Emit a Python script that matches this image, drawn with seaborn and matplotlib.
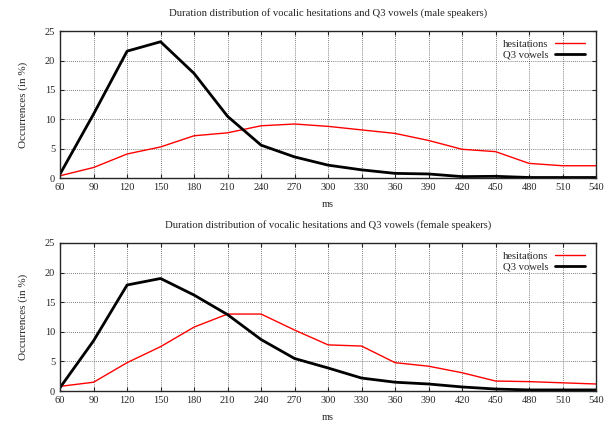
import pandas as pd
import numpy as np
import matplotlib
matplotlib.use('Agg')
import matplotlib.pyplot as plt
import seaborn as sns

ms = [60, 90, 120, 150, 180, 210, 240, 270, 300, 330, 360, 390, 420, 450, 480, 510, 540]

male_hes = [0.4, 1.8, 4.1, 5.3, 7.2, 7.7, 8.9, 9.2, 8.8, 8.2, 7.6, 6.4, 4.9, 4.5, 2.5, 2.1, 2.1]
male_q3 = [0.7, 10.9, 21.6, 23.2, 17.8, 10.5, 5.6, 3.6, 2.2, 1.4, 0.8, 0.7, 0.25, 0.3, 0.1, 0.1, 0.1]

female_hes = [0.8, 1.5, 4.8, 7.5, 10.8, 13.0, 13.0, 10.3, 7.8, 7.6, 4.8, 4.2, 3.1, 1.7, 1.6, 1.4, 1.2]
female_q3 = [0.6, 8.5, 17.9, 19.0, 16.2, 12.9, 8.7, 5.5, 3.9, 2.2, 1.5, 1.2, 0.7, 0.35, 0.2, 0.2, 0.2]

titles = ['Duration distribution of vocalic hesitations and Q3 vowels (male speakers)',
          'Duration distribution of vocalic hesitations and Q3 vowels (female speakers)']

sns.set_style('ticks')
plt.rcParams['font.family'] = ['Liberation Serif', 'DejaVu Serif']

fig = plt.figure(figsize=(6.07, 4.21), dpi=100)
ax1 = fig.add_axes([0.099, 0.577, 0.883, 0.349])
ax2 = fig.add_axes([0.099, 0.071, 0.883, 0.352])

for ax, hes, q3, title in [(ax1, male_hes, male_q3, titles[0]), (ax2, female_hes, female_q3, titles[1])]:
    df = pd.DataFrame({
        'ms': ms * 2,
        'value': hes + q3,
        'series': ['hesitations'] * len(ms) + ['Q3 vowels'] * len(ms),
    })
    sns.lineplot(data=df, x='ms', y='value', hue='series', size='series',
                 palette={'hesitations': '#ff0000', 'Q3 vowels': '#000000'},
                 sizes={'hesitations': 1.0, 'Q3 vowels': 2.0},
                 ax=ax)
    ax.set_xlim(60, 540)
    ax.set_ylim(0, 25)
    ax.set_xticks(ms)
    ax.set_yticks([0, 5, 10, 15, 20, 25])
    ax.tick_params(labelsize=7.5, direction='in', top=True, right=True, length=3, width=0.8)
    ax.grid(True, color='#555555', linestyle=(0, (1, 1.5)), linewidth=0.6)
    for s in ax.spines.values():
        s.set_linewidth(1.0)
        s.set_visible(True)
    ax.set_title(title, fontsize=7.7, pad=11)
    ax.set_xlabel('ms', fontsize=7.5, labelpad=6)
    ax.set_ylabel('Occurrences (in %)', fontsize=8, labelpad=12)
    leg = ax.legend(loc='upper right', frameon=False, markerfirst=False, fontsize=7.7,
                    handlelength=2.8, handletextpad=0.6, labelspacing=0.1,
                    borderaxespad=0.4, bbox_to_anchor=(0.995, 1.0))
    for h, w in zip(leg.get_lines(), [1.0, 2.0]):
        h.set_linewidth(w)

fig.savefig('out.png', dpi=100)
